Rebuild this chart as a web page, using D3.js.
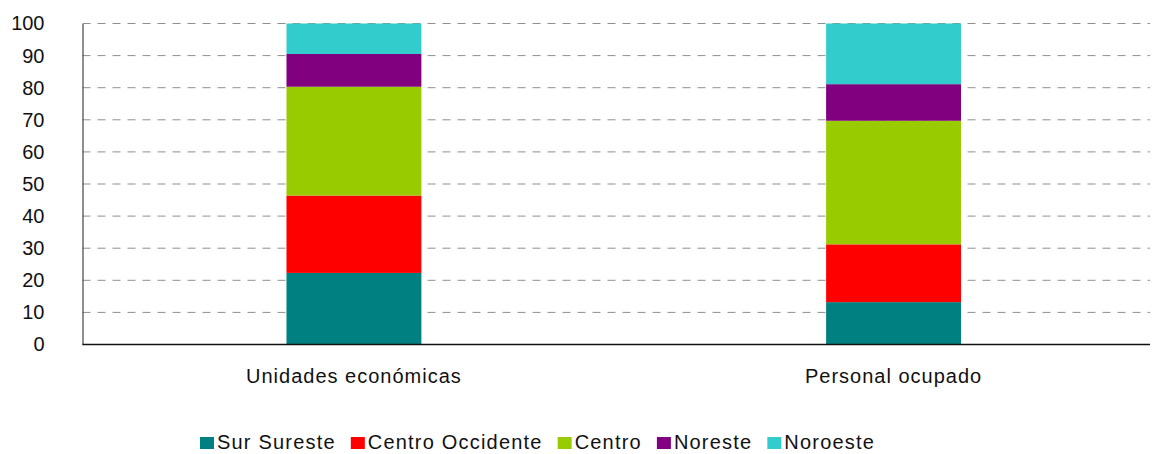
<!DOCTYPE html>
<html>
<head>
<meta charset="utf-8">
<script src="https://cdn.jsdelivr.net/npm/d3@7"></script>
<style>
  body { margin: 0; background: #fff; }
  svg { display: block; font-family: "Liberation Sans", Arial, sans-serif; }
</style>
</head>
<body>
<svg></svg>
<script>
let categories = ["Unidades económicas", "Personal ocupado"];
let regions = ["Sur Sureste", "Centro Occidente", "Centro", "Noreste", "Noroeste"];
let colors = ["#008080", "#ff0000", "#99cc00", "#800080", "#33cccc"];
// percent share per region, one list per category
let unidades = [22.3, 24.1, 33.9, 10.2, 9.5];
let personal = [13.2, 18.0, 38.5, 11.4, 18.9];
let yTicks = [0, 10, 20, 30, 40, 50, 60, 70, 80, 90, 100];

let width = 1153;
let height = 454;
let plotLeft = 82.5;
let plotRight = 1150;
let plotTop = 23.5;
let plotBottom = 344.5;

let svg = d3.select("svg").attr("width", width).attr("height", height);

let rows = categories.map((c, i) => {
  let vals = i == 0 ? unidades : personal;
  let row = { cat: c };
  regions.forEach((r, j) => (row[r] = vals[j]));
  return row;
});

let xScale = d3.scaleBand()
  .domain(categories)
  .range([plotLeft, 1165])
  .paddingInner(0.75)
  .paddingOuter(0.378);

let yScale = d3.scaleLinear().domain([0, 100]).range([plotBottom, plotTop]);

// grid
svg.append("g")
  .selectAll("line")
  .data(yTicks.filter((t) => t > 0))
  .enter()
  .append("line")
  .attr("x1", plotLeft)
  .attr("x2", plotRight)
  .attr("y1", (d) => yScale(d))
  .attr("y2", (d) => yScale(d))
  .attr("stroke", "#8f8f8f")
  .attr("stroke-width", 1)
  .attr("stroke-dasharray", "8,7");

// bars
let stack = d3.stack().keys(regions)(rows);
svg.append("g")
  .selectAll("g")
  .data(stack)
  .enter()
  .append("g")
  .attr("fill", (d, i) => colors[i])
  .selectAll("rect")
  .data((d) => d)
  .enter()
  .append("rect")
  .attr("x", (d) => xScale(d.data.cat))
  .attr("width", xScale.bandwidth())
  .attr("y", (d) => yScale(d[1]))
  .attr("height", (d) => yScale(d[0]) - yScale(d[1]));

// y axis
let yAxis = d3.axisLeft(yScale).tickValues(yTicks).tickSize(0).tickPadding(38);
let gy = svg.append("g").attr("transform", "translate(" + plotLeft + ",0)").call(yAxis);
gy.select(".domain").attr("stroke", "#444").attr("stroke-width", 1.2);
gy.selectAll("text")
  .attr("font-size", 20)
  .attr("font-family", "Liberation Sans, Arial, sans-serif")
  .attr("fill", "#111");

// x axis
let xAxis = d3.axisBottom(xScale).tickSize(0).tickPadding(24);
let gx = svg.append("g").attr("transform", "translate(0," + plotBottom + ")").call(xAxis);
gx.select(".domain").remove();
gx.append("line")
  .attr("x1", plotLeft)
  .attr("x2", plotRight)
  .attr("stroke", "#111")
  .attr("stroke-width", 1.6);
gx.selectAll("text")
  .attr("font-size", 20)
  .attr("letter-spacing", 1)
  .attr("font-family", "Liberation Sans, Arial, sans-serif")
  .attr("fill", "#111");

// legend
let legend = svg.append("g");
let lx = 200;
regions.forEach((r, i) => {
  legend.append("rect")
    .attr("x", lx)
    .attr("y", 437)
    .attr("width", 14)
    .attr("height", 12)
    .attr("fill", colors[i]);
  let t = legend.append("text")
    .attr("x", lx + 17)
    .attr("y", 449)
    .attr("font-size", 20)
    .attr("letter-spacing", 1.2)
    .attr("fill", "#111")
    .text(r);
  lx += 17 + t.node().getComputedTextLength() + 15;
});
</script>
</body>
</html>
